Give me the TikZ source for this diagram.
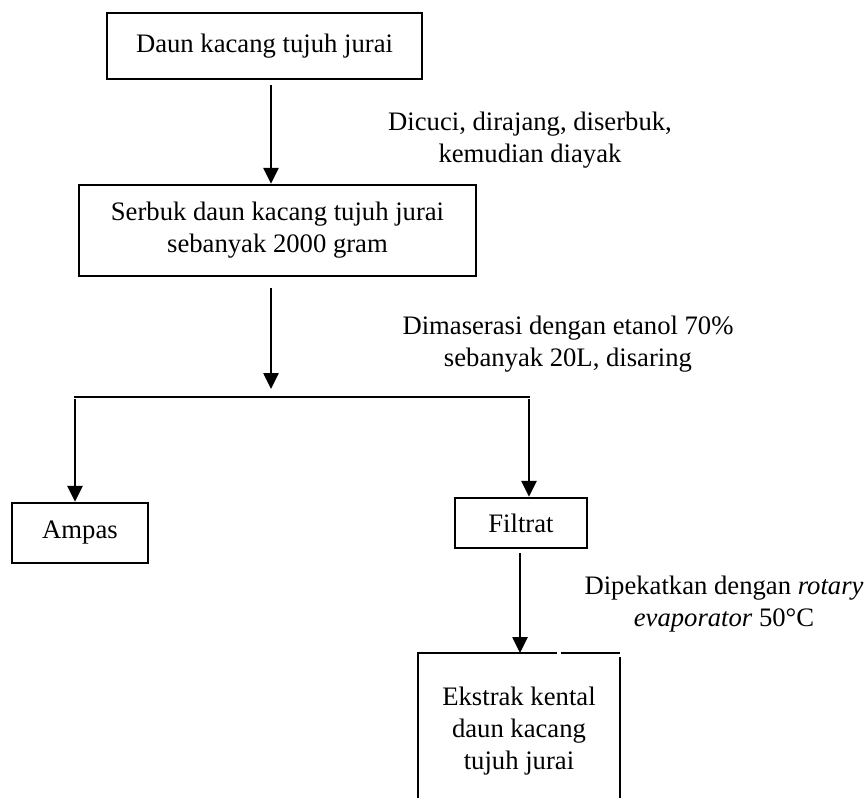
\documentclass[tikz,border=0pt]{standalone}
\usepackage{fontspec}
\setmainfont{Liberation Serif}
\usetikzlibrary{arrows.meta}
\tikzset{
  box/.style={draw, line width=1.1pt, inner sep=0pt, align=center,
    font=\fontsize{12pt}{14.4pt}\selectfont},
  lbl/.style={inner sep=0pt, align=center, font=\fontsize{12pt}{14.4pt}\selectfont},
  arr/.style={line width=1pt, -{Triangle[width=6.8pt,length=7.2pt]}},
  thin line/.style={line width=0.6pt}
}
\begin{document}
\begin{tikzpicture}[x=0.45pt,y=-0.45pt]
\useasboundingbox (0,0) rectangle (867,798);
% boxes
\node[box, minimum width=315*0.45pt, minimum height=66*0.45pt] (top) at (264.5,46) {Daun kacang tujuh jurai};
\node[box, minimum width=397*0.45pt, minimum height=91*0.45pt] (serbuk) at (277.5,230.5) {Serbuk daun kacang tujuh jurai\\sebanyak 2000 gram};
\node[box, minimum width=136*0.45pt, minimum height=60*0.45pt] (ampas) at (80,533) {Ampas};
\node[box, minimum width=132*0.45pt, minimum height=50*0.45pt] (filtrat) at (521,523) {Filtrat};
\node[lbl, minimum width=202*0.45pt] (ekstrak) at (519,731) {Ekstrak kental\\daun kacang\\tujuh jurai};
\coordinate (ekTL) at (418,653);
\coordinate (ekTR) at (620,653);
\draw[line width=1.1pt] (418,798) -- (ekTL) -- (557,653);
\draw[line width=1.1pt] (561,653) -- (ekTR);
\draw[line width=1.1pt] (620,657) -- (620,798);
% labels
\node[lbl] (l1) at (530,140) {Dicuci, dirajang, diserbuk,\\kemudian diayak};
\node[lbl] (l2) at (568,344) {Dimaserasi dengan etanol 70\%\\sebanyak 20L, disaring};
\node[lbl] (l3) at (724,604) {Dipekatkan dengan \textit{rotary}\\\textit{evaporator} 50°C};
% connectors
\coordinate (a1) at (271,85);
\draw[arr] (a1) -- (a1 |- serbuk.north);
\coordinate (a2) at (271,288);
\coordinate (a2e) at (271,389);
\draw[arr] (a2) -- (a2e);
\coordinate (sl) at (74,397);
\coordinate (sr) at (530,397);
\draw[thin line] (sl) -- (sr);
\coordinate (slv) at (75,399);
\coordinate (srv) at (529,399);
\draw[arr] (slv) -- (slv |- ampas.north);
\draw[arr] (srv) -- (srv |- filtrat.north);
\coordinate (a4) at (520,553);
\draw[arr] (a4) -- (a4 |- ekTL);
\end{tikzpicture}
\end{document}
